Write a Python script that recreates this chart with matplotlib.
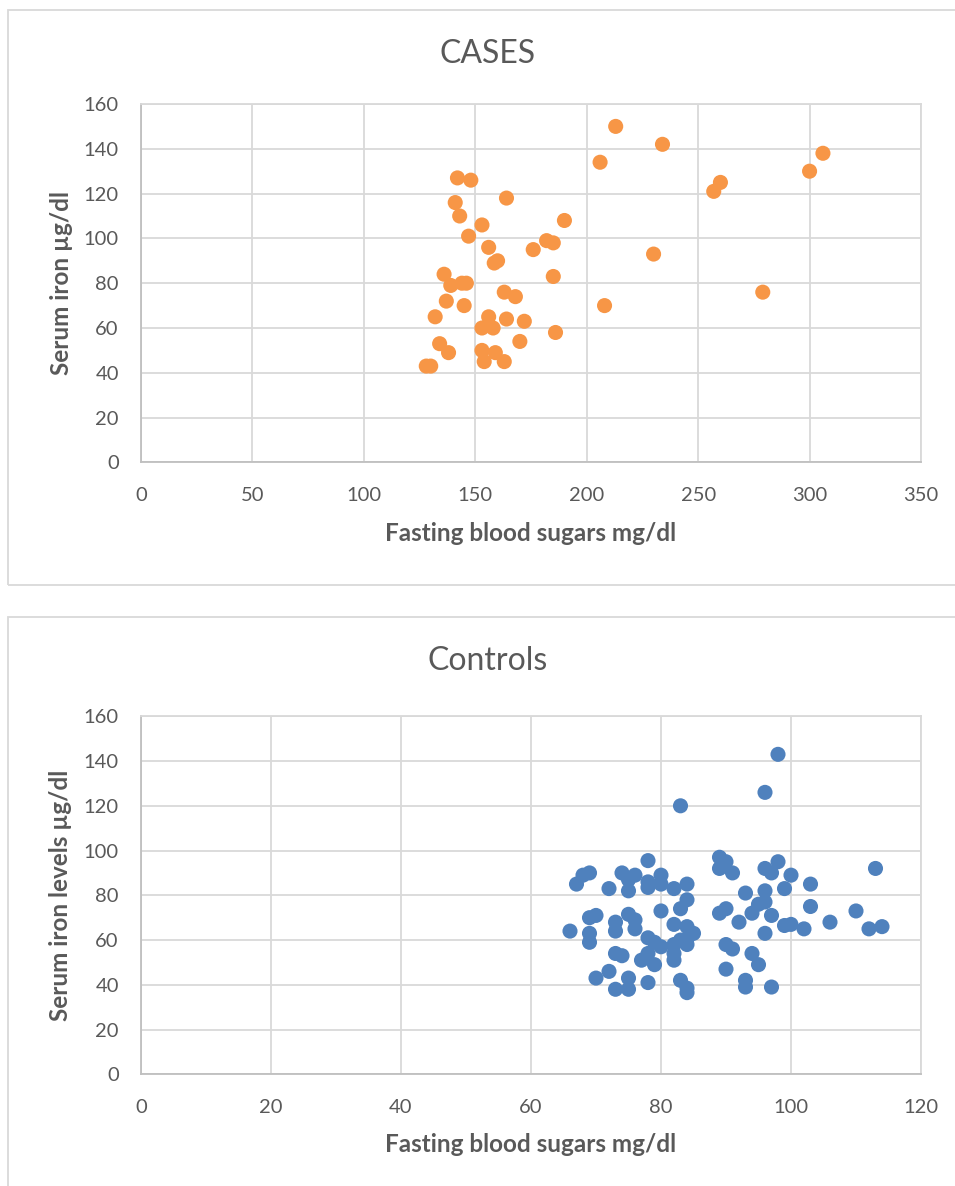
import matplotlib.pyplot as plt
from matplotlib.patches import Rectangle
import numpy as np

plt.rcParams['font.family'] = ['Lato', 'DejaVu Sans']

# Cases: fasting blood sugar (mg/dl) vs serum iron (ug/dl)
cases_fbs = [142, 148, 164, 141, 143, 153, 190, 147, 182, 185, 156, 176, 160, 158.5,
             136, 185, 139, 144, 146, 163, 168, 137, 145, 132, 156, 164, 172, 153,
             158, 186, 134, 170, 138, 153, 159, 154, 163, 128, 130,
             213, 234, 206, 306, 300, 260, 257, 230, 279, 208]
cases_iron = [127, 126, 118, 116, 110, 106, 108, 101, 99, 98, 96, 95, 90, 89,
              84, 83, 79, 80, 80, 76, 74, 72, 70, 65, 65, 64, 63, 60,
              60, 58, 53, 54, 49, 50, 49, 45, 45, 43, 43,
              150, 142, 134, 138, 130, 125, 121, 93, 76, 70]

# Controls
ctrl_fbs = [98, 96, 83, 89, 90, 89, 91, 96, 98, 97, 100, 113, 103, 99, 96, 93,
            96, 95, 94, 97, 103, 89, 90, 92, 99, 100, 102, 106, 110, 112, 114,
            96, 90, 91, 94, 95, 90, 93, 93, 97,
            78, 69, 68, 67, 74, 76, 72, 75, 75, 78, 78, 80, 80, 82, 84, 84, 83,
            80, 70, 69, 75, 76, 73, 76, 73, 66, 69, 69, 82, 84, 85, 84, 78, 79,
            80, 82, 83, 84, 82, 82, 73, 74, 78, 77, 79, 72, 70, 75, 78, 83, 73,
            75, 84, 84]
ctrl_iron = [143, 126, 120, 97, 95, 92, 90, 92, 95, 90, 89, 92, 85, 83, 82, 81,
             77, 76, 72, 71, 75, 72, 74, 68, 66.5, 67, 65, 68, 73, 65, 66,
             63, 58, 56, 54, 49, 47, 42, 39, 39,
             95.5, 90, 89, 85, 90, 89, 83, 87, 82, 86, 83.5, 89, 85, 83, 85, 78, 74,
             73, 71, 70, 71.5, 69, 68, 65, 64, 64, 63, 59, 67, 66, 63, 60.5, 61, 59,
             57, 58, 60, 58, 54, 51, 54, 53, 54, 51, 49, 46, 43, 43, 41, 42, 38,
             38, 36.5, 38.5]

W, H = 955, 1186
fig = plt.figure(figsize=(W / 100, H / 100), dpi=100)

grey = '#595959'
grid_c = '#D9D9D9'
AX_L, AX_R = 141, 921


def fx(px):
    return px / W


def fy(py):
    return 1 - py / H


def panel(top_px, bottom_px, x, y, color, xmax, xstep, title, ylabel, title_y):
    ax = fig.add_axes([fx(AX_L), fy(bottom_px), fx(AX_R) - fx(AX_L), fy(top_px) - fy(bottom_px)])
    ax.scatter(x, y, s=118, color=color, edgecolors='none', zorder=3)
    ax.set_xlim(0, xmax)
    ax.set_ylim(0, 160)
    ax.set_xticks(np.arange(0, xmax + 1, xstep))
    ax.set_yticks(np.arange(0, 161, 20))
    ax.grid(True, color=grid_c, linewidth=1.3, zorder=0)
    ax.set_axisbelow(True)
    for s in ['top', 'right']:
        ax.spines[s].set_color(grid_c)
        ax.spines[s].set_linewidth(1.3)
    for s in ['left', 'bottom']:
        ax.spines[s].set_color('#BFBFBF')
        ax.spines[s].set_linewidth(1.3)
    ax.tick_params(length=0, labelsize=14.5, labelcolor=grey)
    ax.tick_params(axis='x', pad=18)
    ax.tick_params(axis='y', pad=16)

    # axis titles placed by pixel centre
    h = bottom_px - top_px
    ax.set_xlabel('Fasting blood sugars mg/dl', fontsize=17.5, fontweight='bold', color=grey, va='center')
    ax.xaxis.set_label_coords(0.5, -70.7 / h)
    ax.set_ylabel(ylabel, fontsize=17.5, fontweight='bold', color=grey, va='center')
    ax.yaxis.set_label_coords((61 - AX_L) / (AX_R - AX_L), 0.5)

    fig.text(fx(488), fy(title_y), title, fontsize=23, color=grey, ha='center', va='center')
    return ax


# chart frames (right side runs off the image as in the source)
fig.add_artist(Rectangle((fx(8), fy(585)), 1.2, fy(10) - fy(585), transform=fig.transFigure,
                         fill=False, edgecolor=grid_c, linewidth=1.3))
fig.add_artist(Rectangle((fx(8), -0.2), 1.2, fy(617) + 0.2, transform=fig.transFigure,
                         fill=False, edgecolor=grid_c, linewidth=1.3))

panel(104, 462.4, cases_fbs, cases_iron, '#F79646', 350, 50, 'CASES', 'Serum iron µg/dl', 54)
panel(716.3, 1074.3, ctrl_fbs, ctrl_iron, '#4F81BD', 120, 20, 'Controls', 'Serum iron levels µg/dl', 661)

fig.savefig('out.png', dpi=100)
